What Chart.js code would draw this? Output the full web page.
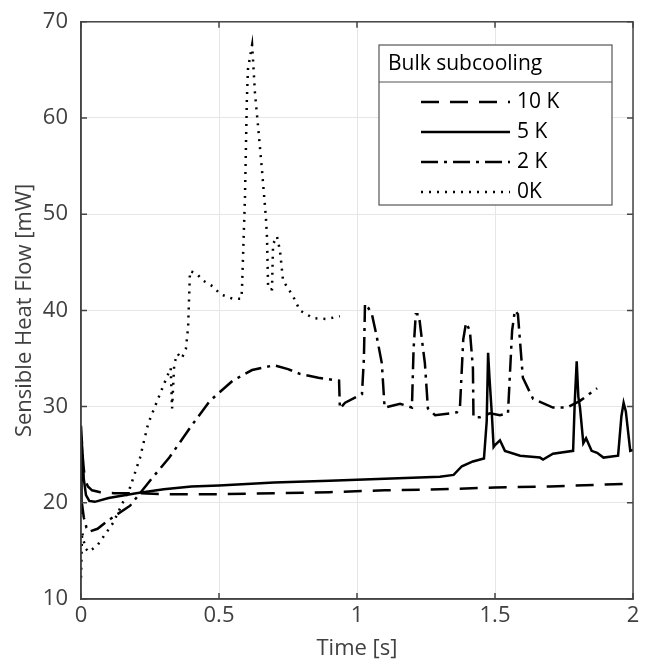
<!DOCTYPE html>
<html>
<head>
<meta charset="utf-8">
<script src="https://cdn.jsdelivr.net/npm/chart.js@4/dist/chart.umd.min.js"></script>
<style>
  html, body { margin: 0; padding: 0; background: #fff; }
  #wrap { width: 645px; height: 664px; }
</style>
</head>
<body>
<div id="wrap"><canvas id="chart1" width="645" height="664"></canvas></div>
<script>
// series names (legend)
const seriesNames = ["10 K", "5 K", "2 K", "0K"];
const legendTitle = "Bulk subcooling";
const xTickValues = [0, 0.5, 1, 1.5, 2];
const xTickLabels = ["0", "0.5", "1", "1.5", "2"];

// 10 K  (dashed)
const t10 = [0, 0.003, 0.008, 0.015, 0.025, 0.04, 0.07, 0.12, 0.2, 0.3, 0.5, 0.7, 0.9, 1.1, 1.3, 1.5, 1.7, 1.9, 2.0];
const q10 = [28.0, 26.5, 24.0, 22.4, 21.7, 21.3, 21.1, 21.0, 21.0, 20.9, 20.9, 21.0, 21.1, 21.3, 21.4, 21.6, 21.7, 21.9, 22.0];

// 5 K  (solid)
const t5 = [0, 0.002, 0.005, 0.01, 0.018, 0.03, 0.05, 0.1, 0.2, 0.3, 0.4, 0.5, 0.7, 0.9, 1.1, 1.3, 1.35, 1.38, 1.42, 1.46, 1.47, 1.475, 1.48, 1.489, 1.495, 1.5, 1.518, 1.536, 1.591, 1.663, 1.674, 1.71, 1.783, 1.789, 1.796, 1.802, 1.808, 1.82, 1.83, 1.85, 1.87, 1.893, 1.946, 1.958, 1.966, 1.974, 1.99, 2.0];
const q5 = [19.0, 26.5, 25.5, 22.5, 20.8, 20.2, 20.1, 20.5, 21.0, 21.4, 21.7, 21.8, 22.1, 22.3, 22.5, 22.7, 22.9, 23.8, 24.3, 24.6, 28.5, 35.6, 33.0, 29.0, 25.8, 26.0, 26.5, 25.4, 24.9, 24.7, 24.5, 25.1, 25.4, 30.5, 34.7, 31.0, 29.9, 26.2, 26.7, 25.4, 25.2, 24.7, 24.9, 29.0, 30.4, 29.5, 25.4, 25.5];

// 2 K  (dash-dot)
const t2 = [0, 0.004, 0.01, 0.02, 0.03, 0.06, 0.1, 0.178, 0.25, 0.32, 0.4, 0.467, 0.55, 0.62, 0.7, 0.75, 0.793, 0.86, 0.935, 0.938, 0.957, 1.018, 1.025, 1.029, 1.04, 1.054, 1.07, 1.09, 1.10, 1.156, 1.199, 1.205, 1.213, 1.224, 1.235, 1.246, 1.257, 1.283, 1.362, 1.373, 1.385, 1.395, 1.409, 1.42, 1.422, 1.446, 1.482, 1.518, 1.547, 1.562, 1.572, 1.583, 1.601, 1.638, 1.71, 1.76, 1.808, 1.87];
const q2 = [20.0, 19.8, 18.5, 17.4, 17.0, 17.3, 18.2, 19.7, 22.3, 24.7, 28.0, 30.6, 32.7, 33.8, 34.3, 33.9, 33.4, 33.0, 32.7, 29.8, 30.4, 31.3, 35.0, 40.7, 40.3, 39.6, 37.5, 34.5, 29.9, 30.3, 29.9, 36.0, 39.6, 39.6, 37.0, 34.5, 29.8, 29.1, 29.4, 29.9, 37.0, 38.7, 37.9, 34.0, 28.9, 28.9, 29.3, 29.1, 29.3, 37.9, 40.0, 39.6, 33.0, 30.8, 29.9, 29.9, 30.6, 31.9];

// 0 K  (dotted)
const t0 = [0, 0.004, 0.01, 0.018, 0.028, 0.06, 0.116, 0.178, 0.214, 0.243, 0.286, 0.31, 0.325, 0.33, 0.338, 0.35, 0.365, 0.38, 0.388, 0.395, 0.42, 0.442, 0.478, 0.504, 0.551, 0.58, 0.583, 0.594, 0.601, 0.605, 0.62, 0.623, 0.63, 0.641, 0.656, 0.67, 0.674, 0.678, 0.685, 0.692, 0.696, 0.71, 0.721, 0.732, 0.768, 0.793, 0.841, 0.891, 0.938];
const q0 = [12.2, 17.0, 16.0, 15.2, 14.9, 15.6, 17.9, 21.6, 24.7, 28.2, 31.3, 33.0, 34.0, 29.8, 34.5, 35.5, 35.0, 36.0, 38.2, 44.1, 43.8, 43.1, 42.5, 41.7, 41.2, 41.2, 42.0, 51.7, 62.0, 65.1, 67.6, 66.2, 62.7, 59.3, 54.5, 49.6, 47.5, 42.3, 42.2, 42.2, 46.9, 47.7, 46.2, 43.1, 41.5, 40.0, 39.2, 39.1, 39.4];

const FONT = "'Open Sans', 'DejaVu Sans', sans-serif";

function pts(xs, ys) {
  return xs.map((x, i) => ({ x: x, y: ys[i] }));
}

const dashes = [[18, 11], [], [17, 6, 3, 6], [2, 6]];

// box around the axes + ticks pointing inward + legend box
const boxAndLegend = {
  id: "boxAndLegend",
  afterDraw(chart) {
    const ctx = chart.ctx;
    const a = chart.chartArea;
    const xs = chart.scales.x, ys = chart.scales.y;
    ctx.save();
    ctx.strokeStyle = "#444";
    ctx.lineWidth = 1.5;
    ctx.strokeRect(a.left, a.top, a.right - a.left, a.bottom - a.top);
    ctx.beginPath();
    xs.ticks.forEach(t => {
      const p = xs.getPixelForValue(t.value);
      ctx.moveTo(p, a.bottom); ctx.lineTo(p, a.bottom - 6);
      ctx.moveTo(p, a.top); ctx.lineTo(p, a.top + 6);
    });
    ys.ticks.forEach(t => {
      const p = ys.getPixelForValue(t.value);
      ctx.moveTo(a.left, p); ctx.lineTo(a.left + 6, p);
      ctx.moveTo(a.right, p); ctx.lineTo(a.right - 6, p);
    });
    ctx.stroke();

    // legend
    const L = 379, T = 45, W = 233, H = 160, sep = 37;
    ctx.fillStyle = "#fff";
    ctx.fillRect(L, T, W, H);
    ctx.strokeStyle = "#555";
    ctx.lineWidth = 1.2;
    ctx.strokeRect(L, T, W, H);
    ctx.beginPath();
    ctx.moveTo(L, T + sep); ctx.lineTo(L + W, T + sep);
    ctx.stroke();
    ctx.fillStyle = "#000";
    ctx.font = "21px " + FONT;
    ctx.textBaseline = "middle";
    ctx.textAlign = "left";
    ctx.fillText(legendTitle, L + 9, T + 19);
    chart.data.datasets.forEach((ds, i) => {
      const y = T + 57 + i * 30;
      ctx.save();
      ctx.strokeStyle = ds.borderColor;
      ctx.lineWidth = ds.borderWidth;
      ctx.setLineDash(ds.borderDash || []);
      ctx.beginPath();
      ctx.moveTo(L + 42, y); ctx.lineTo(L + 131, y);
      ctx.stroke();
      ctx.restore();
      ctx.fillStyle = "#000";
      ctx.fillText(seriesNames[i], L + 138, y);
    });
    ctx.restore();
  }
};

const datasets = [pts(t10, q10), pts(t5, q5), pts(t2, q2), pts(t0, q0)].map((d, i) => ({
  label: seriesNames[i],
  data: d,
  borderColor: "#000",
  backgroundColor: "#000",
  borderWidth: 2.5,
  borderDash: dashes[i],
  borderCapStyle: "butt",
  pointRadius: 0,
  tension: 0,
  fill: false
}));

const ctx = document.getElementById("chart1").getContext("2d");
const myChart = new Chart(ctx, {
  type: "line",
  data: { datasets: datasets },
  options: {
    responsive: false,
    animation: false,
    layout: { padding: { left: 0, right: 12, top: 20, bottom: 0 } },
    plugins: { legend: { display: false }, tooltip: { enabled: false } },
    scales: {
      x: {
        type: "linear",
        min: 0,
        max: 2,
        afterFit: s => { s.height = 65; },
        afterBuildTicks: s => { s.ticks = xTickValues.map(v => ({ value: v })); },
        ticks: {
          color: "#404040", font: { family: FONT, size: 22 }, padding: 4, maxRotation: 0,
          callback: (v) => xTickLabels[xTickValues.indexOf(v)]
        },
        grid: { color: "#e6e6e6", drawTicks: false, lineWidth: 1 },
        border: { color: "#444", width: 1.5 },
        title: { display: true, text: "Time [s]", color: "#404040", font: { family: FONT, size: 22 }, padding: { top: 0, bottom: 2 } }
      },
      y: {
        min: 10,
        max: 70,
        afterFit: s => { s.width = 81; },
        ticks: { stepSize: 10, color: "#404040", font: { family: FONT, size: 22, lineHeight: 0.8 }, padding: 13 },
        grid: { color: "#e6e6e6", drawTicks: false, lineWidth: 1 },
        border: { color: "#444", width: 1.5 },
        title: { display: true, text: "Sensible Heat Flow [mW]", color: "#404040", font: { family: FONT, size: 22 }, padding: { top: 12, bottom: 0 } }
      }
    }
  },
  plugins: [boxAndLegend]
});
</script>
</body>
</html>
